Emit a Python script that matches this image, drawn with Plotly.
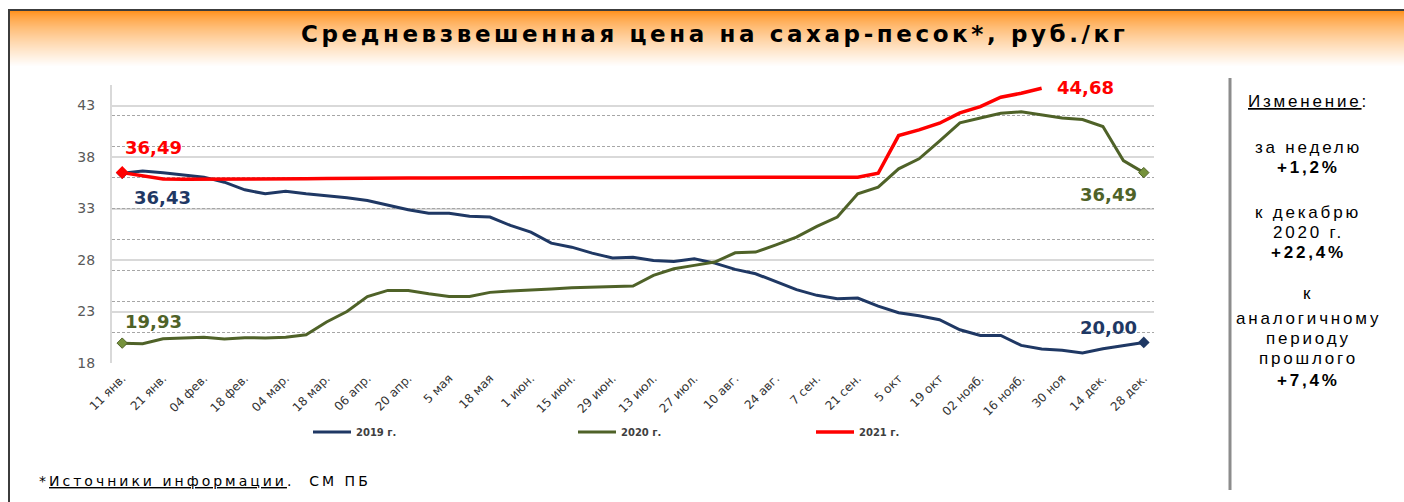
import plotly.graph_objects as go

# ---------------- data ----------------
tick_labels = ["11 янв.", "21 янв.", "04 фев.", "18 фев.", "04 мар.", "18 мар.", "06 апр.",
               "20 апр.", "5 мая", "18 мая", "1 июн.", "15 июн.", "29 июн.", "13 июл.",
               "27 июл.", "10 авг.", "24 авг.", "7 сен.", "21 сен.", "5 окт", "19 окт",
               "02 нояб.", "16 нояб.", "30 ноя", "14 дек.", "28 дек."]

y2019 = [36.43, 36.65, 36.47, 36.27, 36.05, 35.56, 34.82, 34.43, 34.69, 34.43,
         34.27, 34.04, 33.78, 33.30, 32.88, 32.55, 32.55, 32.26, 32.17, 31.36,
         30.71, 29.64, 29.25, 28.67, 28.19, 28.28, 27.96, 27.86, 28.12, 27.70,
         27.09, 26.67, 25.86, 25.12, 24.57, 24.24, 24.31, 23.53, 22.88, 22.59,
         22.20, 21.23, 20.68, 20.68, 19.71, 19.36, 19.23, 18.97, 19.39, 19.68,
         20.00]

y2020 = [19.93, 19.88, 20.36, 20.43, 20.50, 20.33, 20.46, 20.43, 20.50, 20.75,
         21.98, 23.00, 24.45, 25.05, 25.05, 24.73, 24.47, 24.47, 24.86, 24.99,
         25.05, 25.18, 25.31, 25.37, 25.44, 25.47, 26.51, 27.15, 27.48, 27.80,
         28.70, 28.77, 29.48, 30.23, 31.26, 32.17, 34.43, 35.08, 36.86, 37.83,
         39.54, 41.32, 41.80, 42.26, 42.39, 42.13, 41.80, 41.64, 40.96, 37.66,
         36.49]

y2021 = [36.49, 36.20, 35.88, 35.85, 35.85, 35.82, 35.85, 35.88, 35.90, 35.90,
         35.92, 35.95, 35.95, 35.97, 35.97, 35.97, 35.97, 35.97, 35.97, 35.97,
         35.97, 35.97, 35.97, 35.97, 35.97, 35.97, 35.97, 35.97, 35.97, 35.97,
         35.97, 35.97, 35.98, 35.98, 35.99, 36.03, 36.05, 36.43, 40.09, 40.64,
         41.29, 42.29, 42.90, 43.81, 44.20, 44.68]

series_names = ["2019 г.", "2020 г.", "2021 г."]

panel_lines = [
    ("<u>Изменение</u>:", 101, False),
    ("за неделю", 147, False),
    ("+1,2%", 167, True),
    ("к декабрю", 212, False),
    ("2020 г.", 232, False),
    ("+22,4%", 252, True),
    ("к", 293, False),
    ("аналогичному", 318, False),
    ("периоду", 338, False),
    ("прошлого", 358, False),
    ("+7,4%", 380, True),
]

title_text = "Средневзвешенная цена на сахар-песок*, руб./кг"

# ---------------- style ----------------
BLUE = "#1F3864"
GREEN = "#4F6228"
RED = "#FF0000"

W, H = 1404, 502
L, R, T, B = 112, 250, 85, 139
PW = W - L - R
PH = H - T - B


def px(xp):
    return (xp - L) / PW


def py(yp):
    return (H - B - yp) / PH


def fmt(v):
    return f"{v:.2f}".replace(".", ",")


x19 = list(range(len(y2019)))
x20 = list(range(len(y2020)))
x21 = list(range(len(y2021)))

fig = go.Figure()

# empty trace so the secondary (dashed-grid) axis is drawn
fig.add_trace(go.Scatter(x=[None], y=[None], yaxis="y2", showlegend=False,
                         hoverinfo="skip", mode="lines"))

fig.add_trace(go.Scatter(x=x19, y=y2019, mode="lines", name=series_names[0],
                         line=dict(color=BLUE, width=3), legendwidth=212))
fig.add_trace(go.Scatter(x=x20, y=y2020, mode="lines", name=series_names[1],
                         line=dict(color=GREEN, width=3), legendwidth=185))
fig.add_trace(go.Scatter(x=x21, y=y2021, mode="lines", name=series_names[2],
                         line=dict(color=RED, width=3.5), legendwidth=60))

# end-point markers
fig.add_trace(go.Scatter(x=[x19[0], x19[-1]], y=[y2019[0], y2019[-1]], mode="markers",
                         marker=dict(symbol="diamond", size=9, color=BLUE),
                         showlegend=False))
fig.add_trace(go.Scatter(x=[x20[0], x20[-1]], y=[y2020[0], y2020[-1]], mode="markers",
                         marker=dict(symbol="diamond", size=8, color="#76923C",
                                     line=dict(color=GREEN, width=1)),
                         showlegend=False))
fig.add_trace(go.Scatter(x=[x21[0]], y=[y2021[0]], mode="markers",
                         marker=dict(symbol="diamond", size=10, color=RED),
                         showlegend=False))

# data labels
lab_font = dict(family="DejaVu Sans", size=18)
labels = [
    (x21[0], y2021[0], RED, 31, 25),
    (x19[0], y2019[0], BLUE, 40, -24),
    (x20[0], y2020[0], GREEN, 31, 22),
    (x21[-1], y2021[-1], RED, 44, 1),
    (x20[-1], y2020[-1], GREEN, -35, -22),
    (x19[-1], y2019[-1], BLUE, -35, 15),
]
for xv, yv, col, dx, dy in labels:
    fig.add_annotation(x=xv, y=yv, xref="x", yref="y", text="<b>" + fmt(yv) + "</b>",
                       showarrow=False, xshift=dx, yshift=dy,
                       font=dict(lab_font, color=col), xanchor="center", yanchor="middle")

# title
fig.add_annotation(xref="paper", yref="paper", x=px(714), y=py(34),
                   text='<b><span style="letter-spacing:3.6px">' + title_text + "</span></b>",
                   showarrow=False, xanchor="center", yanchor="middle",
                   font=dict(family="DejaVu Sans", size=23, color="#000000"))

# right panel
for txt, yy, bold in panel_lines:
    t = "<b>" + txt + "</b>" if bold else txt
    fig.add_annotation(xref="paper", yref="paper", x=px(1308), y=py(yy),
                       text='<span style="letter-spacing:2.8px">' + t + "</span>",
                       showarrow=False, xanchor="center", yanchor="middle",
                       font=dict(family="Liberation Sans", size=17, color="#000000"))

# footnote
fig.add_annotation(xref="paper", yref="paper", x=px(37), y=py(481),
                   text='<span style="letter-spacing:3px">*<u>Источники информации</u>.  СМ ПБ</span>',
                   showarrow=False, xanchor="left", yanchor="middle",
                   font=dict(family="DejaVu Sans", size=14, color="#000000"))

# header gradient
shapes = []
top, bot = 11, 66
o = (255, 145, 28)
for k in range(top, bot):
    t = (k - top) / (bot - top)
    m = t ** 0.75
    c = tuple(round(o[i] + (255 - o[i]) * m) for i in range(3))
    shapes.append(dict(type="rect", xref="paper", yref="paper",
                       x0=px(9), x1=px(1404), y0=py(k + 1), y1=py(k),
                       line=dict(width=0), fillcolor=f"rgb{c}", layer="below"))
# frame
shapes.append(dict(type="line", xref="paper", yref="paper", x0=px(8), x1=px(1404),
                   y0=py(10), y1=py(10), line=dict(color="#3C3C3C", width=2)))
shapes.append(dict(type="line", xref="paper", yref="paper", x0=px(9), x1=px(9),
                   y0=py(10), y1=py(510), line=dict(color="#3C3C3C", width=2)))
# right separator
shapes.append(dict(type="line", xref="paper", yref="paper", x0=px(1230), x1=px(1230),
                   y0=py(78), y1=py(490), line=dict(color="#8C8C8C", width=3)))

fig.update_layout(
    width=W, height=H,
    margin=dict(l=L, r=R, t=T, b=B, pad=0),
    paper_bgcolor="white", plot_bgcolor="white",
    font=dict(family="DejaVu Sans", color="#404040"),
    shapes=shapes,
    showlegend=True,
    legend=dict(orientation="h", x=px(308), xanchor="left", y=py(432), yanchor="middle",
                font=dict(family="DejaVu Sans", size=10, color="#404040", weight="bold"),
                bgcolor="rgba(0,0,0,0)", tracegroupgap=0, itemwidth=38),
    xaxis=dict(range=[-0.5, 50.5], tickmode="array", tickvals=list(range(0, 51, 2)),
               ticktext=tick_labels, tickangle=-45, showgrid=False, zeroline=False,
               showline=False, ticks="", ticklabelstandoff=5,
               tickfont=dict(family="DejaVu Sans", size=12, color="#333333")),
    yaxis=dict(range=[18, 45], tickmode="array", tickvals=list(range(18, 44, 5)),
               showgrid=True, gridcolor="#D9D9D9", gridwidth=2, zeroline=False,
               showline=True, linecolor="#D9D9D9", linewidth=2, ticks="",
               ticklabelstandoff=12,
               tickfont=dict(family="DejaVu Sans", size=14, color="#595959")),
    yaxis2=dict(range=[18, 45], overlaying="y", side="right", tickmode="array",
                tickvals=list(range(18, 46, 3)), showgrid=True, griddash="3px,2px",
                gridcolor="#A6A6A6", gridwidth=1, showticklabels=False, ticks="",
                zeroline=False, showline=False),
)

fig.write_html("out.html", config={"displayModeBar": False},
               post_script="document.body.style.margin='0px';document.body.style.overflow='hidden';")
